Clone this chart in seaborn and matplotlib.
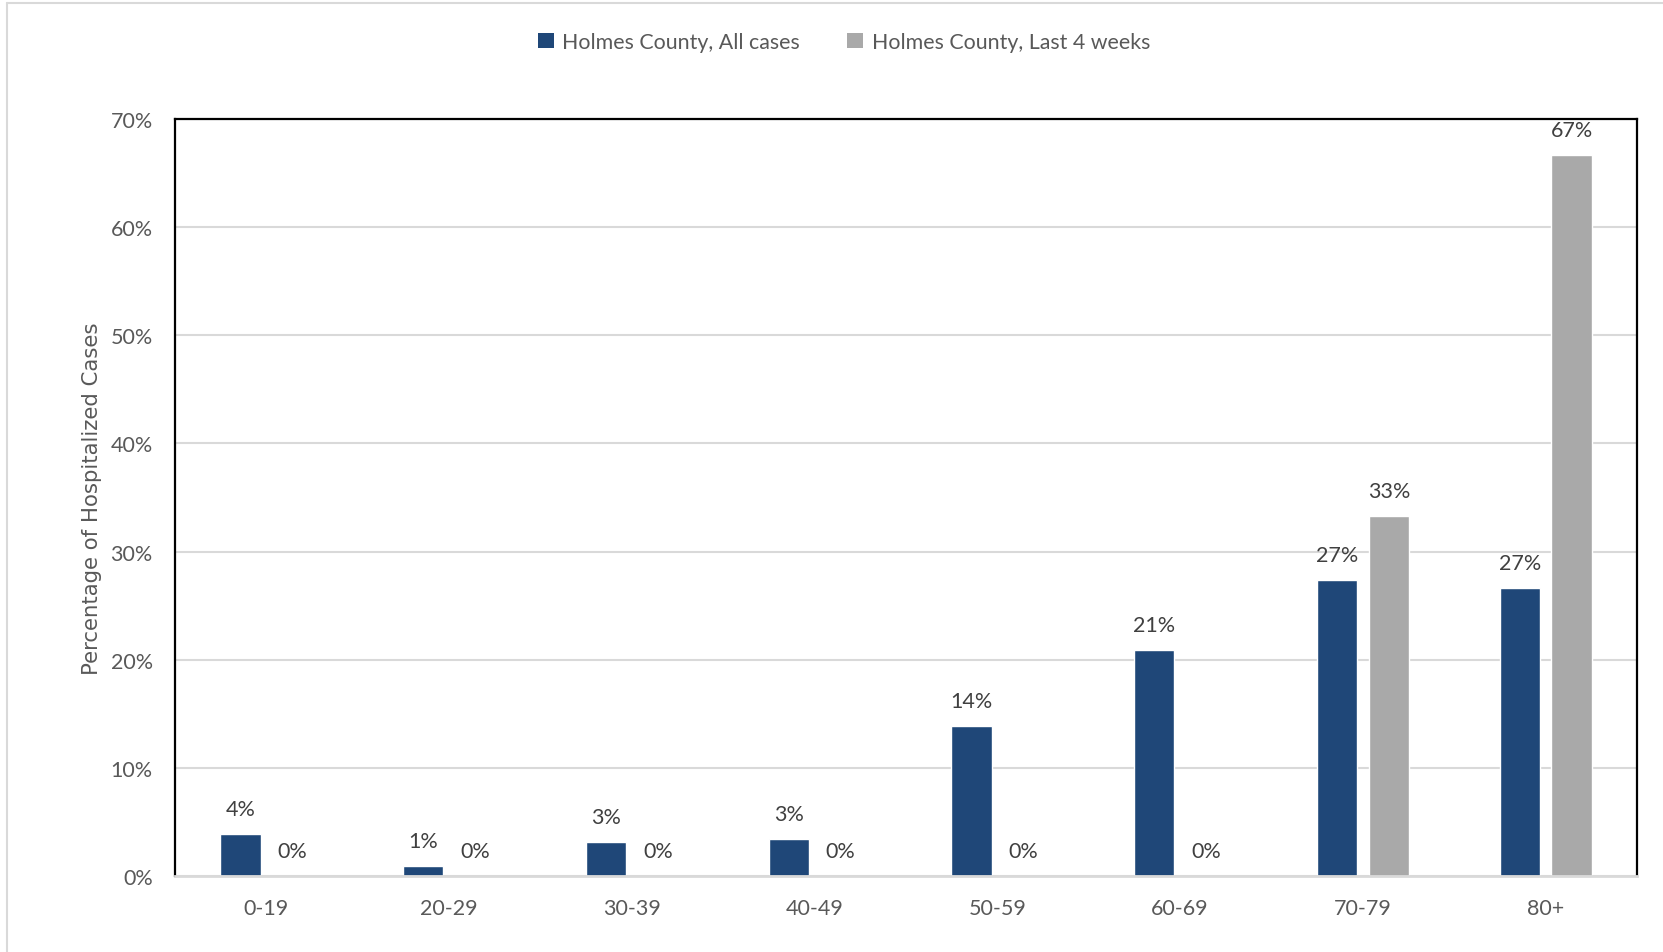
import matplotlib
matplotlib.use("Agg")
import matplotlib.pyplot as plt
import seaborn as sns
import pandas as pd
from matplotlib.patches import Patch
from matplotlib.lines import Line2D

categories = ["0-19", "20-29", "30-39", "40-49", "50-59", "60-69", "70-79", "80+"]
all_cases = [3.9, 0.9, 3.1, 3.4, 13.9, 20.9, 27.4, 26.6]
last_4_weeks = [0.0, 0.0, 0.0, 0.0, 0.0, 0.0, 33.3, 66.7]
series_names = ["Holmes County, All cases", "Holmes County, Last 4 weeks"]
y_ticks = [0, 10, 20, 30, 40, 50, 60, 70]

colors = ["#1F4778", "#A9A9A9"]

df = pd.DataFrame({
    "age": categories * 2,
    "pct": all_cases + last_4_weeks,
    "series": [series_names[0]] * len(categories) + [series_names[1]] * len(categories),
})

sns.set_theme(style="white")
plt.rcParams["font.family"] = ["Lato", "DejaVu Sans"]

fig = plt.figure(figsize=(16.63, 9.53), dpi=100)
ax = fig.add_axes([175 / 1663, 1 - 877 / 953, (1637 - 175) / 1663, (877 - 120) / 953])

sns.barplot(data=df, x="age", y="pct", hue="series", palette=colors,
            width=0.568, gap=0.225, ax=ax, legend=False, saturation=1,
            errorbar=None, order=categories, hue_order=series_names)

ax.set_xlim(-0.5, len(categories) - 0.5)
ax.set_ylim(0, 70)
ax.set_yticks(y_ticks)
ax.set_yticklabels([f"{t}%" for t in y_ticks])
ax.yaxis.grid(True, color="#D9D9D9", linewidth=1.5)
ax.set_axisbelow(True)
ax.tick_params(axis="both", length=0, labelsize=15.5, labelcolor="#595959")
ax.tick_params(axis="y", pad=16)
ax.tick_params(axis="x", pad=16)
ax.set_xlabel("")
ax.set_ylabel("Percentage of Hospitalized Cases", fontsize=15.3, color="#595959",
              family="DejaVu Sans", labelpad=6)

for side in ["left", "top", "right"]:
    ax.spines[side].set_color("black")
    ax.spines[side].set_linewidth(1.6)
ax.spines["bottom"].set_color("#D9D9D9")
ax.spines["bottom"].set_linewidth(2)

for cont in ax.containers:
    for bar in cont:
        h = bar.get_height()
        ax.annotate(f"{h:.0f}%", (bar.get_x() + bar.get_width() / 2, h),
                    xytext=(0, 18), textcoords="offset points",
                    ha="center", va="center", fontsize=15.5, color="#404040")

handles = [Patch(facecolor=c, edgecolor="none") for c in colors]
fig.legend(handles, series_names, loc="center", bbox_to_anchor=(0.5075, 0.955),
           ncol=2, frameon=False, fontsize=15.4, labelcolor="#595959",
           handlelength=0.75, handleheight=0.75, handletextpad=0.4, columnspacing=2.2)

fig.add_artist(Line2D([7 / 1663, 7 / 1663], [0, 1 - 4 / 953], color="#D9D9D9", linewidth=1.5))
fig.add_artist(Line2D([7 / 1663, 1], [1 - 4 / 953, 1 - 4 / 953], color="#D9D9D9", linewidth=1.5))

fig.savefig("out.png", dpi=100, facecolor="white")
